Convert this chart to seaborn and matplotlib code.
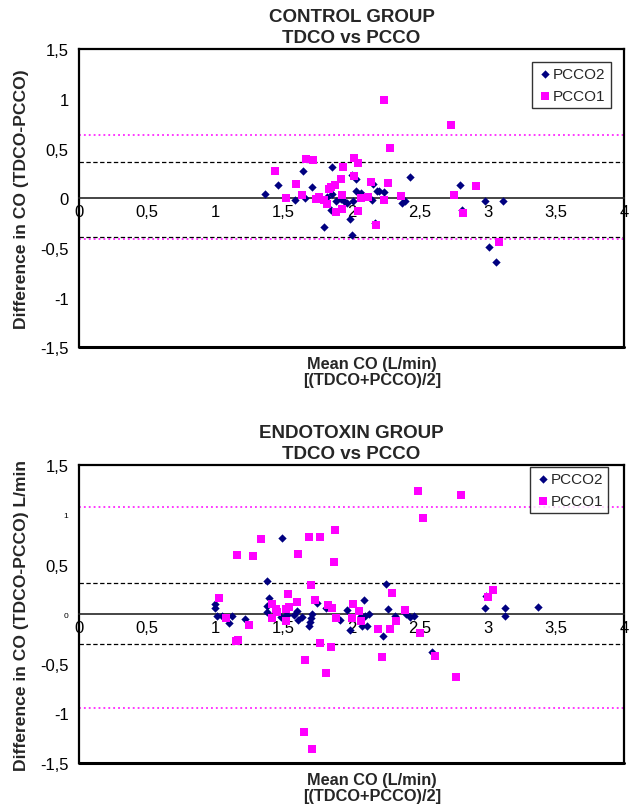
import pandas as pd
import seaborn as sns
import matplotlib.pyplot as plt

# control group: mean CO vs difference
ctrl_pcco2_mean = [1.367, 1.46, 1.587, 1.646, 1.656, 1.71, 1.80, 1.82, 1.847, 1.856, 1.856, 1.888,
                   1.92, 1.944, 1.966, 1.99, 2.0, 2.01, 2.005, 2.03, 2.03, 2.07, 2.15, 2.157, 2.186,
                   2.20, 2.235, 2.17, 2.37, 2.39, 2.43, 2.795, 2.81, 2.98, 3.11, 3.01, 3.06]
ctrl_pcco2_diff = [0.04, 0.13, -0.02, 0.28, 0.006, 0.11, -0.29, 0.01, -0.12, 0.04, 0.32, -0.03,
                   -0.01, -0.03, -0.05, -0.21, -0.37, -0.03, 0.24, 0.19, 0.07, 0.05, -0.02, 0.14, 0.07,
                   0.07, 0.06, -0.25, -0.05, -0.03, 0.21, 0.13, -0.12, -0.03, -0.03, -0.49, -0.64]
ctrl_pcco1_mean = [2.24, 2.73, 2.28, 1.665, 1.72, 2.02, 2.05, 1.435, 1.94, 2.015, 1.595, 1.92,
                   1.88, 1.85, 1.835, 2.14, 2.27, 2.91, 2.75, 1.52, 1.64, 1.76, 1.74, 1.80, 1.82,
                   1.93, 1.93, 1.885, 2.07, 2.12, 2.235, 2.365, 2.05, 2.18, 2.82, 3.08]
ctrl_pcco1_diff = [0.99, 0.735, 0.51, 0.40, 0.39, 0.41, 0.36, 0.28, 0.32, 0.22, 0.14, 0.19,
                   0.13, 0.11, 0.09, 0.16, 0.15, 0.12, 0.03, 0.0, 0.03, 0.01, -0.01, -0.02, -0.06,
                   0.03, -0.11, -0.14, 0.0, 0.01, -0.015, 0.02, -0.13, -0.27, -0.15, -0.44]
ctrl_bias = [0.362, -0.393]      # PCCO2 limits (dashed)
ctrl_limits1 = [0.634, -0.413]   # PCCO1 limits (dotted)

# endotoxin group
endo_pcco2_mean = [1.487, 1.38, 1.0, 1.0, 1.015, 1.047, 1.10, 1.125, 1.216, 1.394, 1.38, 1.38,
                   1.48, 1.51, 1.53, 1.58, 1.60, 1.605, 1.636, 1.71, 1.705, 1.697, 1.69, 1.744,
                   1.81, 1.915, 1.964, 1.99, 2.09, 2.07, 2.10, 2.13, 2.076, 2.11, 2.25, 2.27, 2.23,
                   2.32, 2.40, 2.43, 2.46, 2.59, 2.986, 2.98, 3.125, 3.125, 3.37]
endo_pcco2_diff = [0.77, 0.33, 0.10, 0.06, -0.015, -0.015, -0.085, -0.02, -0.05, 0.16, 0.08, 0.02,
                   -0.03, -0.02, -0.01, -0.01, 0.03, -0.06, -0.03, 0.0, -0.04, -0.08, -0.12, 0.11,
                   0.06, -0.06, 0.04, -0.16, 0.14, -0.02, -0.02, 0.0, -0.12, -0.12, 0.30, 0.05, -0.22,
                   -0.02, 0.0, -0.03, -0.02, -0.38, 0.18, 0.06, 0.06, -0.02, 0.07]
endo_pcco1_mean = [1.333, 1.16, 1.277, 1.03, 1.08, 1.25, 1.15, 1.17,
                   1.69, 1.77, 1.88, 1.607, 1.87, 1.70, 1.533, 1.73, 1.60, 1.414, 1.83, 1.854,
                   1.539, 1.517, 1.445, 1.453, 1.414, 1.517, 1.883, 2.01, 2.056, 2.003, 2.07,
                   2.196, 2.28, 1.77, 1.85, 1.66, 1.81, 2.225, 1.65, 1.71,
                   2.49, 2.80, 2.526, 2.30, 2.39, 2.33, 2.50, 2.61, 2.77, 3.0, 3.035]
endo_pcco1_diff = [0.76, 0.60, 0.59, 0.16, -0.04, -0.11, -0.27, -0.26,
                   0.78, 0.78, 0.85, 0.61, 0.53, 0.29, 0.20, 0.14, 0.12, 0.10, 0.09, 0.06,
                   0.07, 0.05, 0.05, 0.02, -0.04, -0.07, -0.04, 0.10, 0.03, -0.04, -0.07,
                   -0.15, -0.15, -0.29, -0.33, -0.46, -0.59, -0.43, -1.19, -1.36,
                   1.24, 1.20, 0.97, 0.21, 0.04, -0.07, -0.19, -0.42, -0.63, 0.17, 0.24]
endo_bias = [0.318, -0.303]
endo_limits1 = [1.084, -0.949]

x_ticks = [0, 0.5, 1, 1.5, 2, 2.5, 3, 3.5, 4]
x_tick_labels = ['0', '0,5', '1', '1,5', '2', '2,5', '3', '3,5', '4']
y_ticks = [-1.5, -1, -0.5, 0, 0.5, 1, 1.5]
y_tick_labels = ['-1,5', '-1', '-0,5', '0', '0,5', '1', '1,5']

NAVY = '#000080'
MAGENTA = '#FF00FF'

sns.set_style('white')
plt.rcParams['font.family'] = ['Liberation Sans', 'DejaVu Sans']

fig = plt.figure(figsize=(6.36, 8.12), dpi=100)
ax_top = fig.add_axes([0.1242, 0.571, 0.857, 0.367])
ax_bot = fig.add_axes([0.1242, 0.0591, 0.857, 0.3666])


def bland_altman(ax, m2, d2, m1, d1, bias, lim1, title, ylabel, ylabel_size, legend_anchor):
    df2 = pd.DataFrame({'mean': m2, 'diff': d2})
    df1 = pd.DataFrame({'mean': m1, 'diff': d1})
    sns.scatterplot(data=df2, x='mean', y='diff', ax=ax, marker='D', s=18,
                    color=NAVY, edgecolor=NAVY, linewidth=0, label='PCCO2', zorder=3)
    sns.scatterplot(data=df1, x='mean', y='diff', ax=ax, marker='s', s=32,
                    color=MAGENTA, edgecolor=MAGENTA, linewidth=0, label='PCCO1', zorder=4)
    for v in bias:
        ax.axhline(v, color='black', lw=0.9, ls=(0, (3.5, 2)), zorder=2)
    for v in lim1:
        ax.axhline(v, color=MAGENTA, lw=1.1, ls=(0, (1.2, 2)), zorder=2)

    ax.set_xlim(0, 4)
    ax.set_ylim(-1.5, 1.5)
    ax.set_xticks(x_ticks, x_tick_labels)
    ax.set_yticks(y_ticks, y_tick_labels)
    ax.tick_params(axis='both', labelsize=12, length=4, width=1, direction='out',
                   color='black', labelcolor='black')
    ax.tick_params(axis='x', pad=1, length=3)

    # x axis crosses at zero, full box around the plot
    ax.spines['bottom'].set_position(('data', 0))
    ax.spines['bottom'].set_linewidth(1.2)
    for side in ['left', 'top', 'right']:
        ax.spines[side].set_linewidth(1.6)
        ax.spines[side].set_color('black')
    ax.axhline(-1.5, color='black', lw=2.2, clip_on=False, zorder=5)

    ax.set_title(title, fontsize=13.5, fontweight='bold', pad=5, linespacing=1.3)
    ax.set_xlabel('Mean CO (L/min)\n[(TDCO+PCCO)/2]', fontsize=11.8, fontweight='bold',
                  linespacing=1.1)
    ax.xaxis.set_label_coords(0.538, -0.03)
    ax.set_ylabel(ylabel, fontsize=ylabel_size, fontweight='bold')
    ax.yaxis.set_label_coords(-0.092, 0.5)

    leg = ax.legend(loc='upper right', bbox_to_anchor=legend_anchor, fontsize=11,
                    frameon=True, fancybox=False, handletextpad=0.0, handlelength=1.0,
                    borderpad=0.35, labelspacing=0.5, borderaxespad=0)
    leg.get_frame().set_edgecolor('black')
    leg.get_frame().set_linewidth(1.0)


bland_altman(ax_top, ctrl_pcco2_mean, ctrl_pcco2_diff, ctrl_pcco1_mean, ctrl_pcco1_diff,
             ctrl_bias, ctrl_limits1, 'CONTROL GROUP\nTDCO vs PCCO',
             'Difference in CO (TDCO-PCCO)', 12.6, (0.976, 0.958))
bland_altman(ax_bot, endo_pcco2_mean, endo_pcco2_diff, endo_pcco1_mean, endo_pcco1_diff,
             endo_bias, endo_limits1, 'ENDOTOXIN GROUP\nTDCO vs PCCO',
             'Difference in CO (TDCO-PCCO) L/min', 12.6, (0.971, 0.994))

# the endotoxin chart shows the "0" and "1" labels in a tiny font
for lab in ax_bot.get_yticklabels():
    if lab.get_text() in ('0', '1'):
        lab.set_fontsize(6)

fig.savefig('out.png', dpi=100)
